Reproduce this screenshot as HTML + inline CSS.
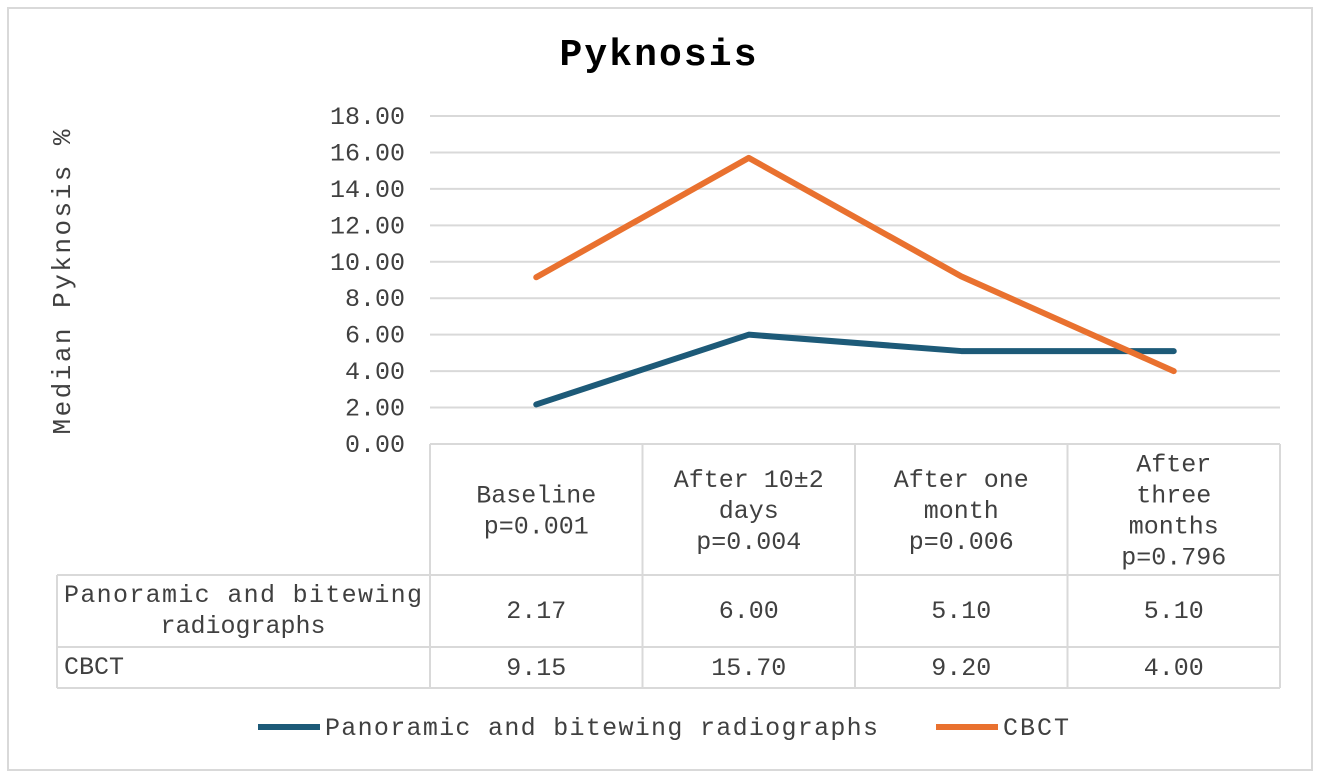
<!DOCTYPE html>
<html><head><meta charset="utf-8"><style>
html,body{margin:0;padding:0;background:#fff;}
svg{display:block;font-family:"Liberation Mono","DejaVu Sans Mono","Courier New",monospace;}
</style></head><body>
<svg id="chart" width="1320" height="778" viewBox="0 0 1320 778" xmlns="http://www.w3.org/2000/svg">
<rect x="8" y="8" width="1304" height="762" fill="#fff" stroke="#d9d9d9" stroke-width="2"/>
<text x="658" y="65" text-anchor="middle" font-size="38" font-weight="bold" fill="#000" textLength="197">Pyknosis</text>
<text transform="translate(70,282) rotate(-90)" text-anchor="middle" font-size="26" fill="#404040" textLength="305">Median Pyknosis %</text>
<g id="grid"></g><g id="table"></g><g id="lines"></g>
<g>
<line x1="258" y1="727" x2="320" y2="727" stroke="#1d5a78" stroke-width="6"/>
<text x="325" y="735" font-size="25" fill="#404040" textLength="553">Panoramic and bitewing radiographs</text>
<line x1="936" y1="727" x2="998" y2="727" stroke="#e9712f" stroke-width="6"/>
<text x="1003" y="735" font-size="25" fill="#404040" textLength="66">CBCT</text>
</g>
</svg>
<script>
const categories=[["Baseline","p=0.001"],["After 10±2","days","p=0.004"],["After one","month","p=0.006"],["After","three","months","p=0.796"]];
const panoramic=[2.17,6.00,5.10,5.10];
const cbct=[9.15,15.70,9.20,4.00];
const yTicks=[0,2,4,6,8,10,12,14,16,18];
const NS="http://www.w3.org/2000/svg";
const x0=430,x1=1280,y0=444,y1=116,yMax=18;
const n=categories.length,cw=(x1-x0)/n;
const xS=i=>x0+cw*(i+0.5);
const yS=v=>y0-(v/yMax)*(y0-y1);
function mk(t,a,p){const e=document.createElementNS(NS,t);for(const k in a)e.setAttribute(k,a[k]);p.appendChild(e);return e;}
const grid=document.getElementById('grid');
yTicks.forEach(v=>{
 const l=mk('line',{x1:x0,x2:x1,y1:yS(v),y2:yS(v),stroke:'#d9d9d9','stroke-width':2},grid);
 
 
 const t=mk('text',{x:405,y:yS(v)+8,'text-anchor':'end','font-size':25,fill:'#404040'},grid);
 t.textContent=v.toFixed(2);
 
 
});
const tb=document.getElementById('table');
const bs={stroke:'#d9d9d9','stroke-width':2};
[[x0,444,x0,688],[57,575,57,688],[57,575,x1,575],[57,647,x1,647],[57,688,x1,688]].forEach(c=>{const l=mk('line',Object.assign({x1:c[0],y1:c[1],x2:c[2],y2:c[3]},bs),tb);
 
 });
for(let i=1;i<=n;i++){const x=x0+cw*i;const l=mk('line',Object.assign({x1:x,y1:444,x2:x,y2:688},bs),tb);
 
 }
categories.forEach((lines,i)=>{
 const lh=31,mid=510,start=mid-(lines.length-1)*lh/2;
 lines.forEach((s,j)=>{const t=mk('text',{x:xS(i),y:start+j*lh+8,'text-anchor':'middle','font-size':25,fill:'#404040'},tb);t.textContent=s;
 
 });
});
let t=mk('text',{x:243,y:602,'text-anchor':'middle','font-size':25,fill:'#404040',textLength:358},tb);t.textContent="Panoramic and bitewing";


t=mk('text',{x:243,y:633,'text-anchor':'middle','font-size':25,fill:'#404040'},tb);t.textContent="radiographs";


t=mk('text',{x:64,y:674,'font-size':25,fill:'#404040'},tb);t.textContent="CBCT";


panoramic.forEach((v,i)=>{const e=mk('text',{x:xS(i),y:618,'text-anchor':'middle','font-size':25,fill:'#404040'},tb);e.textContent=v.toFixed(2);
 
 });
cbct.forEach((v,i)=>{const e=mk('text',{x:xS(i),y:675,'text-anchor':'middle','font-size':25,fill:'#404040'},tb);e.textContent=v.toFixed(2);
 
 });
const lg=document.getElementById('lines');
const pl=mk('polyline',{points:panoramic.map((v,i)=>xS(i)+','+yS(v)).join(' '),fill:'none',stroke:'#1d5a78','stroke-width':6,'stroke-linejoin':'round','stroke-linecap':'round'},lg);


const cl=mk('polyline',{points:cbct.map((v,i)=>xS(i)+','+yS(v)).join(' '),fill:'none',stroke:'#e9712f','stroke-width':6,'stroke-linejoin':'round','stroke-linecap':'round'},lg);


</script>
</body></html>
